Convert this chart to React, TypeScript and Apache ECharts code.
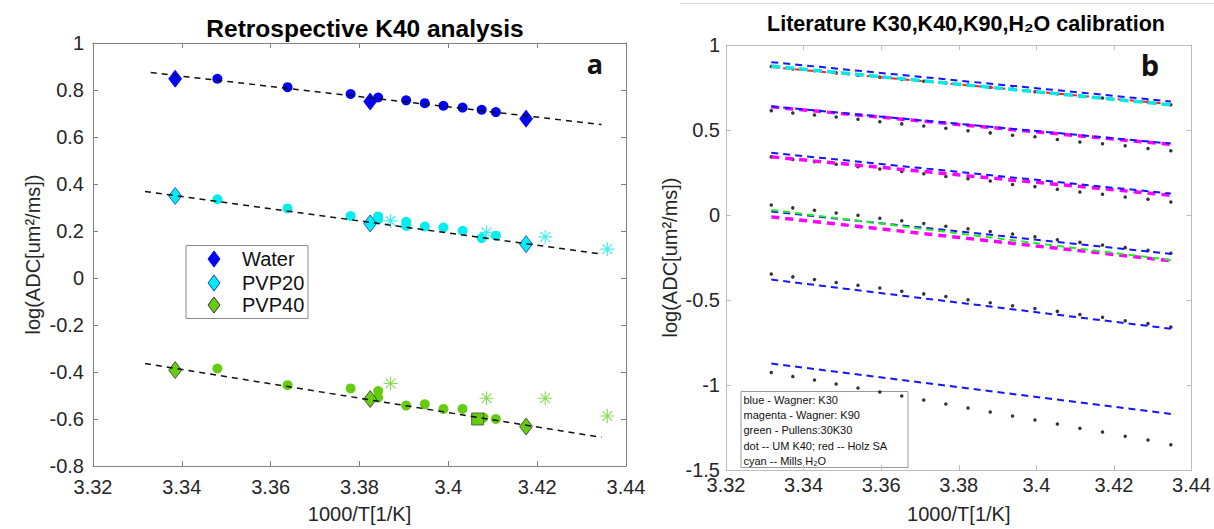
import React, { useEffect, useRef } from 'react';
import * as echarts from 'echarts';

const FONT = '"Liberation Sans", Arial, Helvetica, sans-serif';

// ---------- Panel a: Retrospective K40 analysis ----------
const waterCircles = [
  [3.348, 0.848], [3.3638, 0.812], [3.378, 0.783], [3.3842, 0.768], [3.3905, 0.756],
  [3.3947, 0.744], [3.3989, 0.733], [3.4032, 0.725], [3.4075, 0.716], [3.4107, 0.706],
];
const waterDiamonds = [[3.3385, 0.848], [3.3824, 0.751], [3.4175, 0.678]];
const waterFit = [[3.333, 0.874], [3.4345, 0.653]];

const pvp20Circles = [
  [3.348, 0.335], [3.3638, 0.296], [3.378, 0.264], [3.3842, 0.262], [3.3842, 0.25],
  [3.3905, 0.239], [3.3905, 0.222], [3.3947, 0.219], [3.3989, 0.215], [3.4032, 0.201],
  [3.4075, 0.17], [3.4107, 0.18],
];
const pvp20Diamonds = [[3.3385, 0.349], [3.3824, 0.232], [3.4175, 0.144]];
const pvp20Stars = [[3.387, 0.243], [3.4086, 0.194], [3.4218, 0.175], [3.4358, 0.123]];
const pvp20Fit = [[3.3317, 0.368], [3.4345, 0.102]];

const pvp40Circles = [
  [3.348, -0.385], [3.3638, -0.456], [3.378, -0.47], [3.3842, -0.481], [3.3842, -0.509],
  [3.3905, -0.543], [3.3947, -0.537], [3.3989, -0.557], [3.4032, -0.557], [3.4079, -0.594],
  [3.4107, -0.6],
];
const pvp40Diamonds = [[3.3385, -0.392], [3.3824, -0.515], [3.4175, -0.632]];
const pvp40Stars = [[3.387, -0.449], [3.4086, -0.512], [3.4218, -0.512], [3.4358, -0.587]];
const pvp40Square = [[3.4066, -0.6]];
const pvp40Fit = [[3.3317, -0.364], [3.4345, -0.678]];

const legendA = ['Water', 'PVP20', 'PVP40'];

// ---------- Panel b: Literature calibration ----------
const xB = [
  3.33167, 3.33722, 3.3428, 3.3484, 3.35402, 3.35965, 3.3653, 3.37098, 3.37667, 3.38238,
  3.38811, 3.39386, 3.39963, 3.40541, 3.41122, 3.41705, 3.4229, 3.42877, 3.43466,
];
const dots1 = [0.873, 0.859, 0.848, 0.836, 0.822, 0.811, 0.799, 0.787, 0.776, 0.764, 0.752, 0.741, 0.725, 0.713, 0.7, 0.688, 0.674, 0.665, 0.649];
const dots2 = [0.614, 0.6, 0.588, 0.577, 0.563, 0.549, 0.536, 0.524, 0.51, 0.496, 0.483, 0.469, 0.46, 0.444, 0.43, 0.419, 0.407, 0.391, 0.378];
const dots3 = [0.342, 0.327, 0.313, 0.299, 0.284, 0.27, 0.256, 0.243, 0.227, 0.214, 0.2, 0.18, 0.167, 0.151, 0.135, 0.122, 0.106, 0.093, 0.077];
const dots4 = [0.059, 0.042, 0.028, 0.012, -0.001, -0.019, -0.034, -0.05, -0.066, -0.081, -0.097, -0.112, -0.128, -0.146, -0.161, -0.177, -0.192, -0.208, -0.225];
const dots5 = [-0.347, -0.364, -0.38, -0.397, -0.413, -0.43, -0.448, -0.464, -0.479, -0.499, -0.516, -0.534, -0.55, -0.567, -0.585, -0.602, -0.622, -0.639, -0.659];
const dots6 = [-0.926, -0.95, -0.971, -0.994, -1.018, -1.041, -1.065, -1.088, -1.112, -1.135, -1.159, -1.182, -1.206, -1.229, -1.254, -1.277, -1.301, -1.324, -1.352];

// line end values [at first x, at last x]
const blueLines = [[0.899, 0.668], [0.639, 0.42], [0.366, 0.126], [0.02, -0.229], [-0.38, -0.669], [-0.874, -1.17]];
const magentaLines = [[0.636, 0.415], [0.342, 0.116], [-0.011, -0.269]];
const greenLines = [[0.03, -0.265]];
const redLines = [[0.87, 0.652]];
const cyanLines = [[0.876, 0.648]];

const legendB = [
  'blue - Wagner: K30',
  'magenta - Wagner: K90',
  'green - Pullens:30K30',
  'dot -- UM K40; red -- Holz SA',
  'cyan -- Mills H\u2082O',
];

const STAR = 'path://M10 0L10 20M0 10L20 10M3 3L17 17M3 17L17 3';

const fmt = (v: number) => String(+v.toFixed(2));

function App() {
  const ref = useRef<HTMLDivElement>(null);
  useEffect(() => {
    if (!ref.current) return;
    const chart = echarts.init(ref.current, undefined, { renderer: 'svg' });

    const xBase = (grid: number, color: string, labelMargin: number, nameGap: number) => ({
      type: 'value', gridIndex: grid, position: 'bottom', min: 3.32, max: 3.44, interval: 0.02,
      name: '1000/T[1/K]', nameLocation: 'middle', nameGap,
      nameTextStyle: { fontFamily: FONT, fontSize: 20, color: '#262626' },
      axisLine: { onZero: false, lineStyle: { color, width: 1 } },
      axisTick: { inside: true, length: 5, lineStyle: { color } },
      axisLabel: { fontFamily: FONT, fontSize: 20, color: '#262626', margin: labelMargin, formatter: fmt },
      splitLine: { show: false },
    });
    const xTop = (grid: number, color: string) => ({
      type: 'value', gridIndex: grid, position: 'top', min: 3.32, max: 3.44, interval: 0.02,
      axisLine: { onZero: false, lineStyle: { color, width: 1 } },
      axisTick: { inside: true, length: 5, lineStyle: { color } },
      axisLabel: { show: false }, splitLine: { show: false },
    });
    const yBase = (grid: number, min: number, max: number, interval: number, color: string, labelMargin: number, nameGap: number) => ({
      type: 'value', gridIndex: grid, position: 'left', min, max, interval,
      name: 'log(ADC[um\u00b2/ms])', nameLocation: 'middle', nameGap, nameRotate: 90,
      nameTextStyle: { fontFamily: FONT, fontSize: 20, color: '#262626' },
      axisLine: { onZero: false, lineStyle: { color, width: 1 } },
      axisTick: { inside: true, length: 5, lineStyle: { color } },
      axisLabel: { fontFamily: FONT, fontSize: 20, color: '#262626', margin: labelMargin, formatter: fmt },
      splitLine: { show: false },
    });
    const yRight = (grid: number, min: number, max: number, interval: number, color: string) => ({
      type: 'value', gridIndex: grid, position: 'right', min, max, interval,
      axisLine: { onZero: false, lineStyle: { color, width: 1 } },
      axisTick: { inside: true, length: 5, lineStyle: { color } },
      axisLabel: { show: false }, splitLine: { show: false },
    });

    const A = { xAxisIndex: 0, yAxisIndex: 0 };
    const B = { xAxisIndex: 2, yAxisIndex: 2 };

    const scatterA = (name: string, data: number[][], symbol: string, size: any, fill: string, border: string, bw = 0.8) => ({
      type: 'scatter', name, ...A, data, symbol, symbolSize: size,
      itemStyle: { color: fill, borderColor: border, borderWidth: bw, opacity: 1 },
    });
    const fitA = (data: number[][]) => ({
      type: 'line', ...A, data, symbol: 'none',
      lineStyle: { color: '#111', width: 1.5, type: [6, 5] },
    });
    const lineB = (vals: number[], color: string, width: number, dash: number[]) => ({
      type: 'line', ...B, data: [[xB[0], vals[0]], [xB[xB.length - 1], vals[1]]], symbol: 'none',
      lineStyle: { color, width, type: dash },
    });
    const dotsB = (vals: number[]) => ({
      type: 'scatter', ...B, data: vals.map((v, i) => [xB[i], v]), symbol: 'circle', symbolSize: 3.5,
      itemStyle: { color: '#000' },
    });

    const BLUE = '#0000f5';
    const CYAN = '#00eeee';
    const GREEN = '#66cc11';

    const option: any = {
      animation: false,
      backgroundColor: '#fff',
      title: [
        { text: 'Retrospective K40 analysis', left: 360, top: 11, textAlign: 'center',
          textStyle: { fontFamily: FONT, fontSize: 24.5, fontWeight: 'bold', color: '#000' } },
        { text: 'Literature K30,K40,K90,H\u2082O calibration', left: 961, top: 8, textAlign: 'center',
          textStyle: { fontFamily: FONT, fontSize: 21.5, fontWeight: 'bold', color: '#000' } },
      ],
      grid: [
        { left: 93, top: 43, width: 533, height: 425 },
        { left: 726, top: 45, width: 467, height: 427 },
      ],
      xAxis: [xBase(0, '#808080', 11, 38), xTop(0, '#808080'), xBase(1, '#bdbdbd', 5, 34), xTop(1, '#bdbdbd')],
      yAxis: [
        yBase(0, -0.8, 1, 0.2, '#808080', 9, 50), yRight(0, -0.8, 1, 0.2, '#808080'),
        yBase(1, -1.5, 1, 0.5, '#bdbdbd', 6, 46), yRight(1, -1.5, 1, 0.5, '#bdbdbd'),
      ],
      series: [
        // panel a
        scatterA('Water', waterCircles, 'circle', 10, BLUE, BLUE, 0),
        scatterA('Water', waterDiamonds, 'diamond', [13, 17], BLUE, BLUE),
        scatterA('PVP20', pvp20Circles, 'circle', 10, CYAN, CYAN, 0),
        scatterA('PVP20', pvp20Stars, STAR, 14, 'transparent', '#40eeee', 1.1),
        scatterA('PVP20', pvp20Diamonds, 'diamond', [13, 17], CYAN, '#2233dd'),
        scatterA('PVP40', pvp40Circles, 'circle', 10, GREEN, GREEN, 0),
        scatterA('PVP40', pvp40Stars, STAR, 14, 'transparent', '#88dd55', 1.1),
        scatterA('PVP40', pvp40Square, 'rect', 12, GREEN, '#444'),
        scatterA('PVP40', pvp40Diamonds, 'diamond', [13, 17], GREEN, '#333'),
        fitA(waterFit), fitA(pvp20Fit), fitA(pvp40Fit),
        // panel b
        ...magentaLines.map((v) => lineB(v, '#ff00ff', 3.5, [8, 6])),
        ...blueLines.map((v) => lineB(v, '#1515ff', 2, [7, 5])),
        ...greenLines.map((v) => lineB(v, '#22ee22', 2, [7, 5])),
        ...redLines.map((v) => lineB(v, '#ff2222', 2, [7, 5])),
        ...cyanLines.map((v) => lineB(v, '#00e8e8', 3.5, [9, 5])),
        ...[dots1, dots2, dots3, dots4, dots5, dots6].map(dotsB),
      ],
      graphic: [
        { type: 'line', shape: { x1: 680, y1: 3.5, x2: 1214, y2: 3.5 }, style: { stroke: '#d4d4d4', lineWidth: 1 } },
        { type: 'text', x: 595, y: 63, style: { text: 'a', fontFamily: '"Open Sans", sans-serif', fontWeight: 'bold', fontSize: 27, fill: '#111', align: 'center', verticalAlign: 'middle' } },
        { type: 'text', x: 1150, y: 64, style: { text: 'b', fontFamily: '"Open Sans", sans-serif', fontWeight: 'bold', fontSize: 29, fill: '#111', align: 'center', verticalAlign: 'middle' } },
        // legend a
        {
          type: 'group', children: [
            { type: 'rect', shape: { x: 186, y: 245.5, width: 122, height: 73 }, style: { fill: '#fff', stroke: '#8a8a8a', lineWidth: 1 } },
            { type: 'polygon', shape: { points: [[214, 251], [220, 259], [214, 267], [208, 259]] }, style: { fill: BLUE, stroke: BLUE } },
            { type: 'polygon', shape: { points: [[214, 275], [220, 283], [214, 291], [208, 283]] }, style: { fill: CYAN, stroke: '#2233dd' } },
            { type: 'polygon', shape: { points: [[214, 297], [220, 305], [214, 313], [208, 305]] }, style: { fill: GREEN, stroke: '#333' } },
            ...legendA.map((t, i) => ({
              type: 'text', x: 242, y: [259, 283, 305][i],
              style: { text: t, fontFamily: FONT, fontSize: 20, fill: '#111', verticalAlign: 'middle' },
            })),
          ],
        },
        // legend b
        {
          type: 'group', children: [
            { type: 'rect', shape: { x: 741, y: 391.5, width: 167, height: 76 }, style: { fill: '#fff', stroke: '#999', lineWidth: 1 } },
            ...legendB.map((t, i) => ({
              type: 'text', x: 743.5, y: 400 + i * 15.2,
              style: { text: t, fontFamily: FONT, fontSize: 11, fill: '#111', verticalAlign: 'middle' },
            })),
          ],
        },
      ],
    };
    chart.setOption(option);
    return () => chart.dispose();
  }, []);
  return <div ref={ref} style={{ position: 'fixed', left: 0, top: 0, width: 1214, height: 529 }} />;
}

export default App;
